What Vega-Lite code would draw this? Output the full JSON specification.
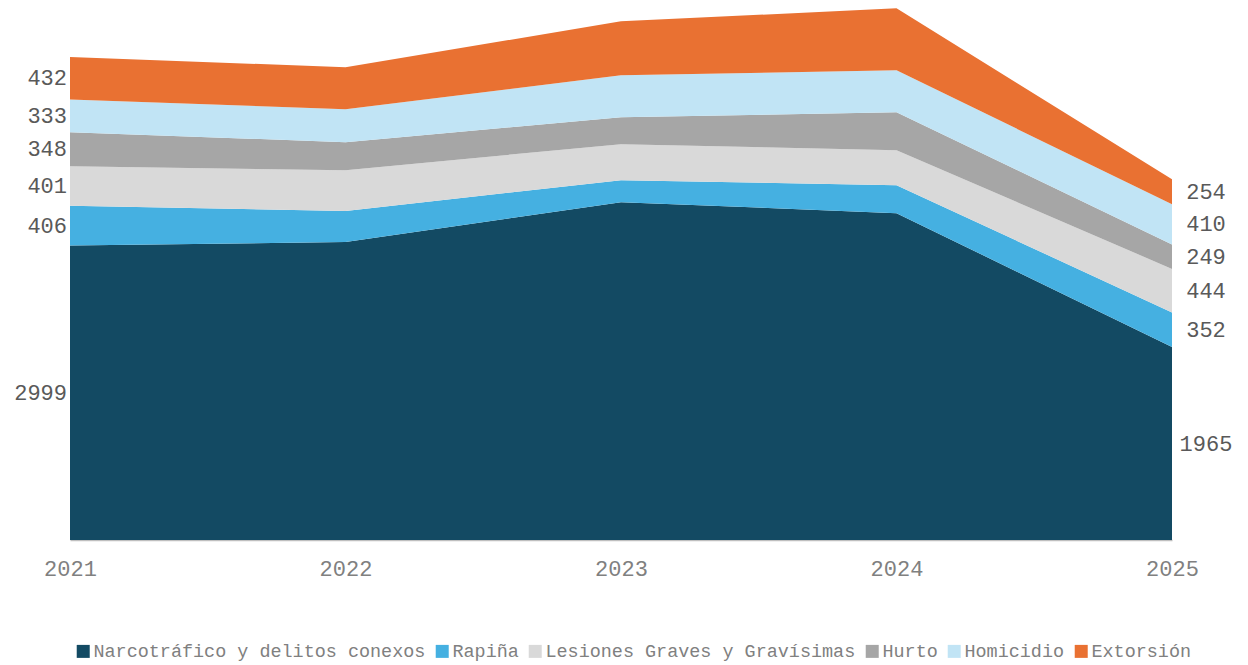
{
  "$schema": "https://vega.github.io/schema/vega-lite/v6.json",
  "autosize": "none",
  "width": 1102,
  "height": 540,
  "padding": {"left": 70, "right": 76, "top": 0, "bottom": 125},
  "background": "white",
  "config": {"view": {"stroke": null}, "font": "Liberation Mono"},
  "data": {"values": [
    {"year": 2021, "c": "Narcotráfico y delitos conexos", "v": 2999},
    {"year": 2021, "c": "Rapiña", "v": 406},
    {"year": 2021, "c": "Lesiones Graves y Gravísimas", "v": 401},
    {"year": 2021, "c": "Hurto", "v": 348},
    {"year": 2021, "c": "Homicidio", "v": 333},
    {"year": 2021, "c": "Extorsión", "v": 432},
    {"year": 2022, "c": "Narcotráfico y delitos conexos", "v": 3034},
    {"year": 2022, "c": "Rapiña", "v": 316},
    {"year": 2022, "c": "Lesiones Graves y Gravísimas", "v": 417},
    {"year": 2022, "c": "Hurto", "v": 285},
    {"year": 2022, "c": "Homicidio", "v": 336},
    {"year": 2022, "c": "Extorsión", "v": 427},
    {"year": 2023, "c": "Narcotráfico y delitos conexos", "v": 3441},
    {"year": 2023, "c": "Rapiña", "v": 224},
    {"year": 2023, "c": "Lesiones Graves y Gravísimas", "v": 366},
    {"year": 2023, "c": "Hurto", "v": 275},
    {"year": 2023, "c": "Homicidio", "v": 427},
    {"year": 2023, "c": "Extorsión", "v": 550},
    {"year": 2024, "c": "Narcotráfico y delitos conexos", "v": 3329},
    {"year": 2024, "c": "Rapiña", "v": 285},
    {"year": 2024, "c": "Lesiones Graves y Gravísimas", "v": 356},
    {"year": 2024, "c": "Hurto", "v": 387},
    {"year": 2024, "c": "Homicidio", "v": 427},
    {"year": 2024, "c": "Extorsión", "v": 631},
    {"year": 2025, "c": "Narcotráfico y delitos conexos", "v": 1965},
    {"year": 2025, "c": "Rapiña", "v": 352},
    {"year": 2025, "c": "Lesiones Graves y Gravísimas", "v": 444},
    {"year": 2025, "c": "Hurto", "v": 249},
    {"year": 2025, "c": "Homicidio", "v": 410},
    {"year": 2025, "c": "Extorsión", "v": 254}
  ]},
  "transform": [
    {"calculate": "indexof(['Narcotráfico y delitos conexos','Rapiña','Lesiones Graves y Gravísimas','Hurto','Homicidio','Extorsión'], datum.c)", "as": "o"},
    {"stack": "v", "groupby": ["year"], "sort": [{"field": "o", "order": "ascending"}], "as": ["y0", "y1"]},
    {"calculate": "(datum.y0 + datum.y1) / 2", "as": "ym"}
  ],
  "layer": [
    {
      "mark": {"type": "area", "line": false, "opacity": 1},
      "encoding": {
        "x": {"field": "year", "type": "quantitative",
          "scale": {"domain": [2021, 2025], "nice": false, "zero": false},
          "axis": {"values": [2021, 2022, 2023, 2024, 2025], "format": "d", "title": null,
            "ticks": false, "grid": false, "domainColor": "#BFBFBF", "domainWidth": 1.5,
            "labelFlush": false, "labelFontSize": 22, "labelColor": "#808080", "labelPadding": 18, "labelFont": "Liberation Mono"}},
        "y": {"field": "y1", "type": "quantitative", "scale": {"domain": [0, 5500], "nice": false}, "axis": null},
        "y2": {"field": "y0"},
        "order": {"field": "o"},
        "color": {"field": "c", "type": "nominal",
          "scale": {"domain": ["Narcotráfico y delitos conexos", "Rapiña", "Lesiones Graves y Gravísimas", "Hurto", "Homicidio", "Extorsión"],
            "range": ["#134A63", "#45B0E1", "#D9D9D9", "#A6A6A6", "#C1E4F5", "#E97132"]},
          "legend": {"title": null, "orient": "none", "legendX": 4, "legendY": 642, "direction": "horizontal",
            "symbolType": "square", "symbolSize": 169, "symbolStrokeWidth": 0, "labelFontSize": 18.45,
            "labelColor": "#808080", "labelFont": "Liberation Mono", "labelLimit": 600, "labelOffset": 1,
            "columnPadding": 7, "columns": 6, "padding": 0}}
      }
    },
    {
      "transform": [{"filter": "datum.year == 2021"}],
      "mark": {"type": "text", "align": "right", "baseline": "middle", "dx": -3, "fontSize": 22, "color": "#595959", "font": "Liberation Mono"},
      "encoding": {
        "x": {"field": "year", "type": "quantitative"},
        "y": {"field": "ym", "type": "quantitative"},
        "text": {"field": "v", "type": "quantitative", "format": "d"}
      }
    },
    {
      "transform": [{"filter": "datum.year == 2025"}],
      "mark": {"type": "text", "align": "center", "baseline": "middle", "dx": 34, "fontSize": 22, "color": "#595959", "font": "Liberation Mono"},
      "encoding": {
        "x": {"field": "year", "type": "quantitative"},
        "y": {"field": "ym", "type": "quantitative"},
        "text": {"field": "v", "type": "quantitative", "format": "d"}
      }
    }
  ]
}
